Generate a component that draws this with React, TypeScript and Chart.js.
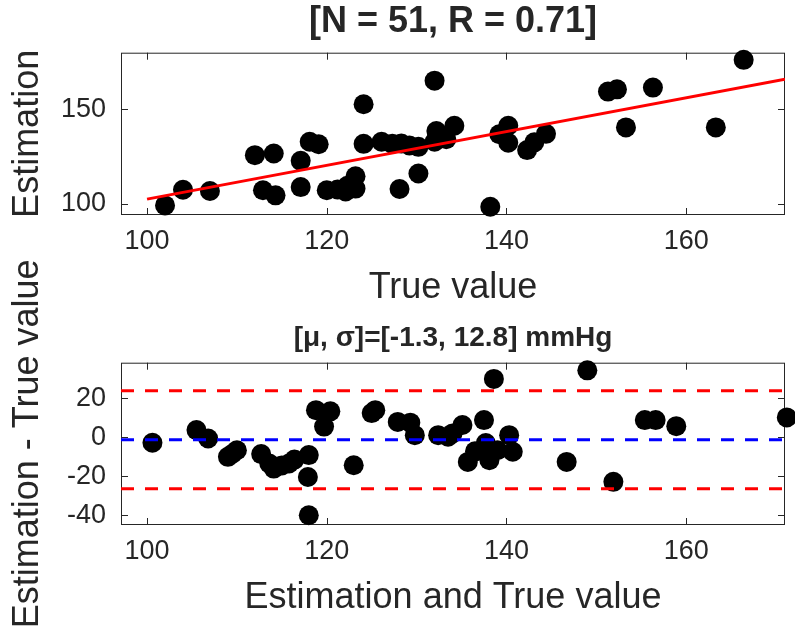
import React, { useEffect, useRef } from "react";
import { Chart, registerables } from "chart.js";

Chart.register(...registerables);

// ---------- data ----------
const trueValues = [
  102.0, 104.0, 107.0, 112.0, 112.9, 114.1, 114.3, 117.1, 117.1, 118.1,
  119.1, 120.0, 121.2, 122.1, 122.3, 123.2, 123.2, 124.1, 124.1, 126.1,
  127.3, 128.3, 129.2, 128.1, 130.2, 130.2, 132.0, 132.2, 132.0, 133.3,
  134.2, 138.2, 139.2, 140.2, 140.2, 142.3, 143.1, 144.4, 151.3, 152.3,
  153.3, 156.3, 163.3, 166.4,
];
const estimatedValues = [
  99.1, 107.4, 106.7, 125.7, 107.1, 126.6, 104.4, 122.7, 108.8, 132.8,
  131.5, 107.1, 107.5, 106.5, 109.5, 108.0, 114.5, 152.7, 131.7, 132.8,
  131.7, 131.9, 130.8, 107.8, 116.0, 130.1, 165.2, 138.5, 132.8, 134.2,
  141.3, 98.4, 136.8, 141.3, 132.3, 128.4, 132.5, 137.0, 159.4, 160.6,
  140.4, 161.5, 140.4, 176.2,
];
const fitX = [100, 171];
const fitY = [102.4, 166.0];

const meanValues = [
  100.6, 105.5, 106.8, 109.0, 109.5, 110.0, 112.7, 113.6, 114.1, 115.0,
  115.8, 116.4, 118.0, 117.9, 118.0, 118.8, 119.7, 120.4, 123.0, 125.0,
  125.4, 127.9, 129.3, 129.8, 132.4, 133.5, 134.0, 135.1, 135.7, 136.5,
  137.5, 137.7, 138.1, 138.6, 139.0, 140.3, 140.7, 146.7, 149.0, 151.9,
  155.4, 156.6, 158.9, 171.2,
];
const diffValues = [
  -2.9, 3.6, -0.7, -10.1, -8.5, -6.7, -8.7, -13.5, -16.1, -14.5,
  -13.5, -11.5, -9.2, -20.4, -40.0, 13.8, 5.4, 13.2, -14.4, 12.3,
  13.8, 7.8, 7.4, 1.0, 1.0, 0.2, 1.9, 6.2, -12.7, -7.3,
  8.7, -3.0, -11.8, 29.8, -6.7, 1.0, -7.5, -12.7, 34.2, -22.9,
  8.7, 8.7, 5.6, 10.1,
];
const biasValue = -1.3;
const upperLimit = 23.8;
const lowerLimit = -26.4;
const limitSpanX = [97.1, 171];

const xTicks = [100, 120, 140, 160];
const topYTicks = [100, 150];
const bottomYTicks = [-40, -20, 0, 20];

const topTitle = "[N = 51, R = 0.71]";
const bottomTitle = "[\u03BC, \u03C3]=[-1.3, 12.8] mmHg";

// ---------- styling ----------
const FONT = "'Liberation Sans', Arial, Helvetica, sans-serif";
const TEXT = "#262626";
const TICK_FONT = { family: FONT, size: 27, lineHeight: 1.2 };
const LABEL_FONT = { family: FONT, size: 36, lineHeight: 1.2 };
const TOP_TITLE_FONT = { family: FONT, size: 36, weight: "bold" as const, lineHeight: 1.2 };
const BOTTOM_TITLE_FONT = { family: FONT, size: 28, weight: "bold" as const, lineHeight: 1.2 };

const boxPlugin = {
  id: "matlabBox",
  beforeDatasetsDraw(chart: any) {
    const { ctx, chartArea: a, scales } = chart;
    ctx.save();
    ctx.strokeStyle = TEXT;
    ctx.lineWidth = 1;
    ctx.strokeRect(a.left + 0.5, a.top + 0.5, a.right - a.left - 1, a.bottom - a.top - 1);
    const len = 7;
    ctx.beginPath();
    scales.x.ticks.forEach((t: any) => {
      const px = Math.round(scales.x.getPixelForValue(t.value)) + 0.5;
      ctx.moveTo(px, a.bottom);
      ctx.lineTo(px, a.bottom - len);
      ctx.moveTo(px, a.top);
      ctx.lineTo(px, a.top + len);
    });
    scales.y.ticks.forEach((t: any) => {
      const py = Math.round(scales.y.getPixelForValue(t.value)) + 0.5;
      ctx.moveTo(a.left, py);
      ctx.lineTo(a.left + len, py);
      ctx.moveTo(a.right, py);
      ctx.lineTo(a.right - len, py);
    });
    ctx.stroke();
    ctx.restore();
  },
};

function makeOptions(p: {
  title: string;
  titleFont: any;
  titlePadTop: number;
  titleHeight: number;
  xLabel: string;
  xLabelPadBottom: number;
  xScaleHeight: number;
  yLabel: string;
  yMin: number;
  yMax: number;
  yTicks: number[];
}) {
  return {
    animation: false,
    responsive: false,
    maintainAspectRatio: false,
    devicePixelRatio: 1,
    layout: { padding: { left: 0, right: 5, top: 0, bottom: 0 } },
    plugins: {
      legend: { display: false },
      tooltip: { enabled: false },
      title: { display: false },
    },
    scales: {
      x: {
        type: "linear",
        position: "bottom",
        min: limitSpanX[0],
        max: limitSpanX[1],
        afterBuildTicks: (ax: any) => {
          ax.ticks = xTicks.map((v) => ({ value: v }));
        },
        afterFit: (s: any) => {
          s.height = p.xScaleHeight;
        },
        grid: { display: false, drawTicks: false },
        border: { display: false },
        ticks: { color: TEXT, font: TICK_FONT, padding: 10, maxRotation: 0 },
        title: {
          display: true,
          text: p.xLabel,
          color: TEXT,
          font: LABEL_FONT,
          padding: { top: 0, bottom: p.xLabelPadBottom },
        },
      },
      // top axis used only to carry the plot title, centred over the plot box
      xTitle: {
        type: "linear",
        position: "top",
        min: limitSpanX[0],
        max: limitSpanX[1],
        afterFit: (s: any) => {
          s.height = p.titleHeight;
        },
        grid: { display: false, drawTicks: false },
        border: { display: false },
        ticks: { display: false },
        title: {
          display: true,
          text: p.title,
          color: TEXT,
          font: p.titleFont,
          padding: { top: p.titlePadTop, bottom: 0 },
        },
      },
      y: {
        type: "linear",
        min: p.yMin,
        max: p.yMax,
        afterBuildTicks: (ax: any) => {
          ax.ticks = p.yTicks.map((v) => ({ value: v }));
        },
        afterFit: (s: any) => {
          s.width = 121;
        },
        grid: { display: false, drawTicks: false },
        border: { display: false },
        ticks: { color: TEXT, font: TICK_FONT, padding: 15 },
        title: {
          display: true,
          text: p.yLabel,
          color: TEXT,
          font: LABEL_FONT,
          padding: { top: 6, bottom: 0 },
        },
      },
    },
  } as any;
}

const pointStyle = {
  type: "scatter" as const,
  backgroundColor: "#000000",
  borderColor: "#000000",
  borderWidth: 0,
  pointRadius: 10,
  pointHoverRadius: 10,
  clip: false as const,
};

export default function App() {
  const topRef = useRef<HTMLCanvasElement>(null);
  const bottomRef = useRef<HTMLCanvasElement>(null);

  useEffect(() => {
    const top = new Chart(topRef.current as HTMLCanvasElement, {
      type: "scatter",
      data: {
        datasets: [
          {
            type: "line",
            data: fitX.map((x, i) => ({ x, y: fitY[i] })),
            borderColor: "#ff0000",
            borderWidth: 3,
            pointRadius: 0,
            fill: false,
          } as any,
          {
            ...pointStyle,
            data: trueValues.map((x, i) => ({ x, y: estimatedValues[i] })),
          },
        ],
      },
      options: makeOptions({
        title: topTitle,
        titleFont: TOP_TITLE_FONT,
        titlePadTop: 0,
        titleHeight: 52.7,
        xLabel: "True value",
        xLabelPadBottom: 5,
        xScaleHeight: 100,
        yLabel: "Estimation",
        yMin: 94,
        yMax: 180,
        yTicks: topYTicks,
      }),
      plugins: [boxPlugin],
    });

    const hLine = (y: number, color: string) =>
      ({
        type: "line",
        data: limitSpanX.map((x) => ({ x, y })),
        borderColor: color,
        borderWidth: 3,
        borderDash: [13, 11],
        pointRadius: 0,
        fill: false,
      }) as any;

    const bottom = new Chart(bottomRef.current as HTMLCanvasElement, {
      type: "scatter",
      data: {
        datasets: [
          hLine(upperLimit, "#ff0000"),
          hLine(biasValue, "#0000ff"),
          hLine(lowerLimit, "#ff0000"),
          {
            ...pointStyle,
            data: meanValues.map((x, i) => ({ x, y: diffValues[i] })),
          },
        ],
      },
      options: makeOptions({
        title: bottomTitle,
        titleFont: BOTTOM_TITLE_FONT,
        titlePadTop: 81,
        titleHeight: 122.7,
        xLabel: "Estimation and True value",
        xLabelPadBottom: 10,
        xScaleHeight: 105,
        yLabel: "Estimation - True value",
        yMin: -45,
        yMax: 38.1,
        yTicks: bottomYTicks,
      }),
      plugins: [boxPlugin],
    });

    return () => {
      top.destroy();
      bottom.destroy();
    };
  }, []);

  return (
    <div
      style={{
        position: "absolute",
        left: 0,
        top: 0,
        width: 795,
        height: 630,
        background: "#ffffff",
        overflow: "hidden",
      }}
    >
      <canvas
        ref={topRef}
        width={795}
        height={315}
        style={{ position: "absolute", left: 0, top: 0, width: 795, height: 315 }}
      />
      <canvas
        ref={bottomRef}
        width={795}
        height={390}
        style={{ position: "absolute", left: 0, top: 240, width: 795, height: 390 }}
      />
    </div>
  );
}
